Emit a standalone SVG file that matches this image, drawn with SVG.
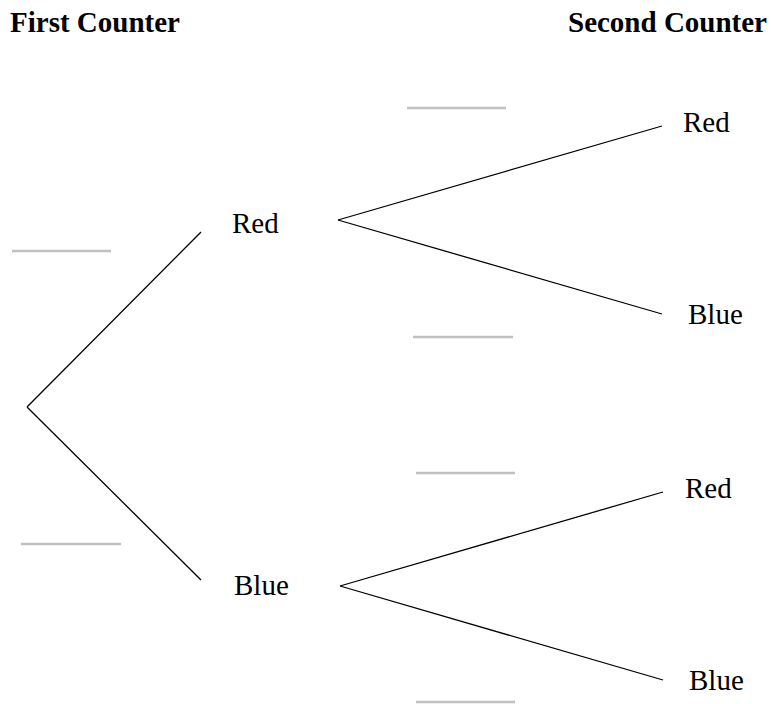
<svg xmlns="http://www.w3.org/2000/svg" width="771" height="704" viewBox="0 0 771 704">
<style>
.t{font-family:"Liberation Serif","Times New Roman",serif;font-size:29px;fill:#000}
.h{font-weight:bold}
.br{stroke:#000;stroke-width:1.3;fill:none}
.ans{stroke:#c0c0c0;stroke-width:2.5}
</style>
<rect width="771" height="704" fill="#fff"/>
<g id="titles">
<text class="t h" x="10" y="32">First Counter</text>
<text class="t h" x="568" y="32">Second Counter</text>
</g>
<g id="connectors">
<line class="br" x1="27" y1="407" x2="201" y2="232"/>
<line class="br" x1="27" y1="407" x2="201" y2="580"/>
<line class="br" x1="338" y1="220" x2="662" y2="126"/>
<line class="br" x1="338" y1="220" x2="662" y2="314"/>
<line class="br" x1="340" y1="586" x2="663" y2="492"/>
<line class="br" x1="340" y1="586" x2="663" y2="680"/>
</g>
<g id="answer-blanks">
<line class="ans" x1="12" y1="251" x2="111" y2="251"/>
<line class="ans" x1="21" y1="544" x2="121" y2="544"/>
<line class="ans" x1="407" y1="108" x2="506" y2="108"/>
<line class="ans" x1="413" y1="337" x2="513" y2="337"/>
<line class="ans" x1="416" y1="473" x2="515" y2="473"/>
<line class="ans" x1="416" y1="702" x2="515" y2="702"/>
</g>
<g id="node-red1"><text class="t" x="232" y="233">Red</text></g>
<g id="node-blue1"><text class="t" x="234" y="595">Blue</text></g>
<g id="node-red-red"><text class="t" x="683" y="132">Red</text></g>
<g id="node-red-blue"><text class="t" x="688" y="324">Blue</text></g>
<g id="node-blue-red"><text class="t" x="685" y="498">Red</text></g>
<g id="node-blue-blue"><text class="t" x="689" y="690">Blue</text></g>
</svg>
